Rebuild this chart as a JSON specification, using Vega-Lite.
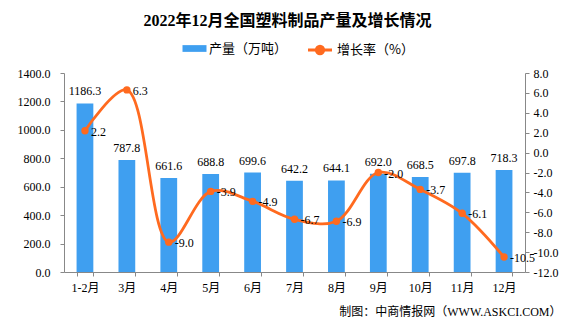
{
  "$schema": "https://vega.github.io/schema/vega-lite/v6.json",
  "width": 461,
  "height": 199,
  "autosize": "none",
  "padding": {"left": 64, "top": 73, "right": 51, "bottom": 54},
  "background": "white",
  "config": {
    "font": "Liberation Serif, Noto Sans CJK SC",
    "view": {"stroke": null},
    "axis": {"labelFont": "Liberation Serif, Noto Sans CJK SC", "labelFontSize": 12, "labelColor": "#000", "domainColor": "#888", "tickColor": "#888", "grid": false}
  },
  "title": {"text": "2022年12月全国塑料制品产量及增长情况", "font": "Liberation Serif, Noto Sans CJK SC", "fontSize": 16, "fontWeight": "bold", "color": "#000", "anchor": "middle", "dx": -7, "offset": 12},
  "data": {"values": [
    {"m": "1-2月", "v": 1186.3, "g": 2.2},
    {"m": "3月", "v": 787.8, "g": 6.3},
    {"m": "4月", "v": 661.6, "g": -9.0},
    {"m": "5月", "v": 688.8, "g": -3.9},
    {"m": "6月", "v": 699.6, "g": -4.9},
    {"m": "7月", "v": 642.2, "g": -6.7},
    {"m": "8月", "v": 644.1, "g": -6.9},
    {"m": "9月", "v": 692.0, "g": -2.0},
    {"m": "10月", "v": 668.5, "g": -3.7},
    {"m": "11月", "v": 697.8, "g": -6.1},
    {"m": "12月", "v": 718.3, "g": -10.5}
  ]},
  "transform": [
    {"calculate": "replace(format(datum.g, '.1f'), '\u2212', '-')", "as": "gl"}
  ],
  "encoding": {
    "x": {"field": "m", "type": "nominal", "sort": null,
      "scale": {"paddingInner": 0.6, "paddingOuter": 0.3},
      "axis": {"title": "制图：中商情报网（WWW.ASKCI.COM）", "titleFont": "Liberation Serif, Noto Sans CJK SC", "titleFontSize": 12, "titleFontWeight": "normal", "titleColor": "#000", "titleAnchor": "end", "titleX": 497, "titlePadding": 13, "labelAngle": 0, "labelPadding": 6, "tickBand": "extent", "tickSize": 4}}
  },
  "layer": [
    {"layer": [
      {"mark": {"type": "bar"},
        "encoding": {
          "color": {"datum": "产量（万吨）", "type": "nominal",
            "scale": {"range": ["#3f9ff0"]},
            "legend": {"title": null, "orient": "none", "legendX": 123, "legendY": -32, "labelFontSize": 13, "labelOffset": 7, "labelFont": "Noto Sans CJK SC", "symbolType": "M-1.6,-0.45H1.6V0.45H-1.6Z", "symbolSize": 225, "symbolStrokeWidth": 0}}
        }},
      {"mark": {"type": "text", "dy": -12, "fontSize": 12, "color": "#000"},
        "encoding": {
          "text": {"field": "v", "type": "quantitative", "format": ".1f"}
        }}
    ],
    "encoding": {
      "y": {"field": "v", "type": "quantitative", "scale": {"domain": [0, 1400]},
        "axis": {"title": null, "values": [0, 200, 400, 600, 800, 1000, 1200, 1400], "format": ".1f", "tickSize": 4, "labelPadding": 10}}
    }},
    {"layer": [
      {"mark": {"type": "line", "interpolate": "catmull-rom", "strokeWidth": 2.8},
        "encoding": {
          "stroke": {"datum": "增长率（%）", "type": "nominal",
            "scale": {"range": ["#ff6a1f"]},
            "legend": {"title": null, "orient": "none", "legendX": 247, "legendY": -32, "labelFontSize": 13, "labelOffset": 8, "labelFont": "Noto Sans CJK SC", "symbolType": "M-1.6,0H1.6M-0.5,0A0.5,0.5 0 1,0 0.5,0A0.5,0.5 0 1,0 -0.5,0Z", "symbolSize": 225, "symbolStrokeWidth": 2.8, "symbolFillColor": "#ff6a1f"}}
        }},
      {"mark": {"type": "point", "filled": true, "size": 55, "color": "#ff6a1f", "opacity": 1}},
      {"mark": {"type": "text", "align": "left", "dx": 6, "dy": 1, "fontSize": 12, "color": "#000"},
        "encoding": {
          "text": {"field": "gl", "type": "nominal"}
        }}
    ],
    "encoding": {
      "y": {"field": "g", "type": "quantitative", "scale": {"domain": [-12, 8]},
        "axis": {"title": null, "orient": "right", "values": [-12, -10, -8, -6, -4, -2, 0, 2, 4, 6, 8], "labelExpr": "replace(format(datum.value, '.1f'), '\u2212', '-')", "tickSize": 4, "labelPadding": 4}}
    }}
  ],
  "resolve": {"scale": {"y": "independent"}}
}
